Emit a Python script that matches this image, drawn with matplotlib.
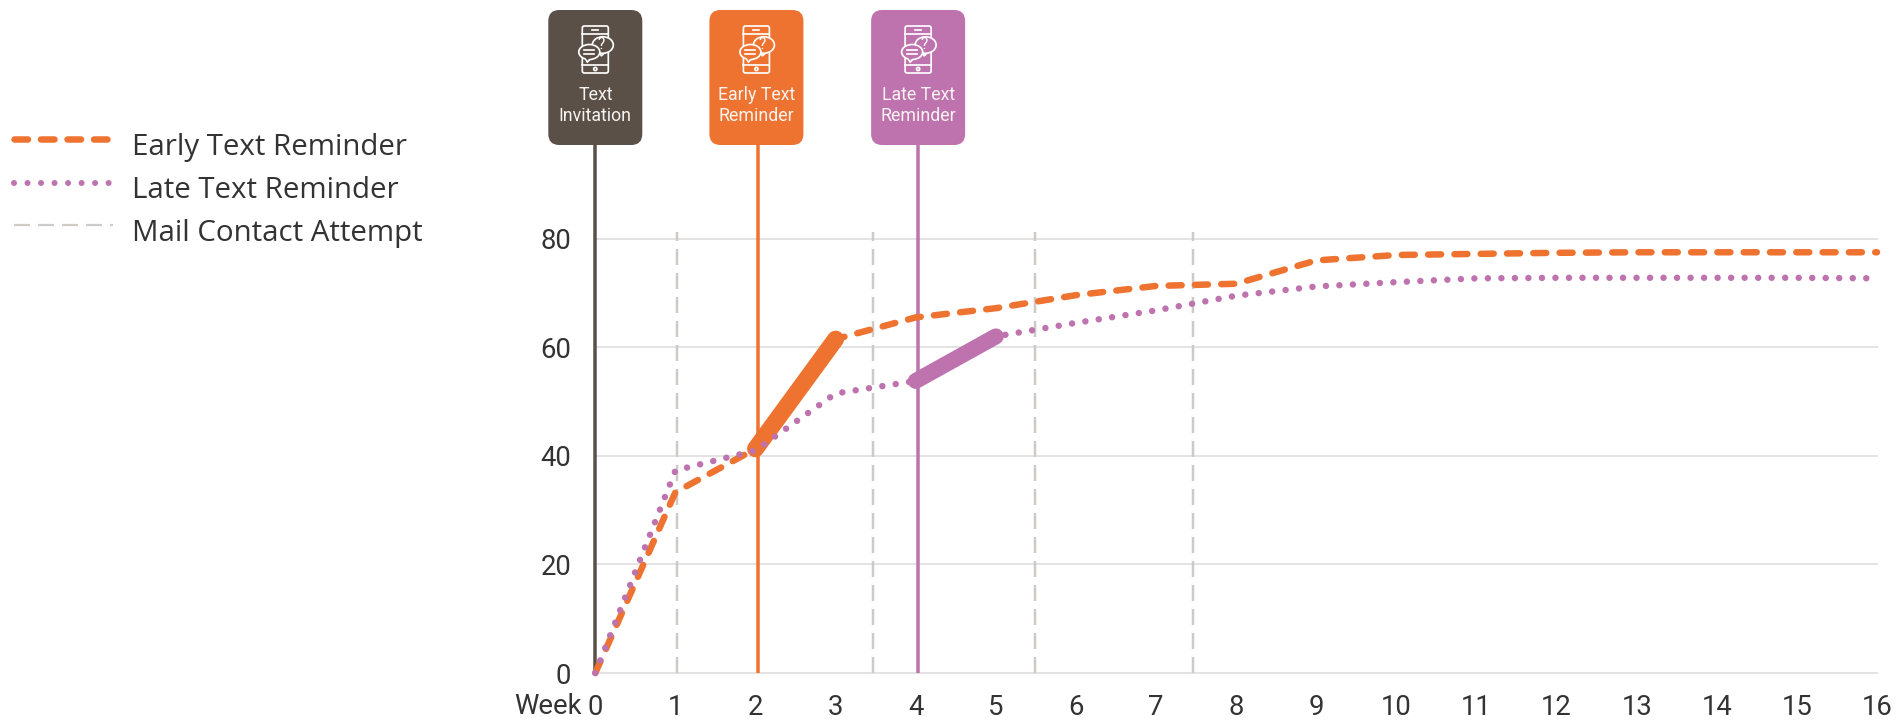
import numpy as np
import matplotlib
matplotlib.use("Agg")
import matplotlib.pyplot as plt
from matplotlib.patches import FancyBboxPatch, Ellipse, Circle, Polygon

W, H = 1901, 721
PX = 72.0 / 100  # points per pixel at dpi=100

ORANGE = "#EE7330"
PURPLE = "#BE72AE"
BROWN = "#5A5048"
MAIL = "#CFCAC5"
GRID = "#E3E3E3"
TEXT = "#333333"

weeks = list(range(17))
early = [0, 33.3, 41.3, 61.5, 65.5, 67.2, 69.6, 71.3, 71.7, 76, 77, 77.2, 77.4, 77.5, 77.5, 77.5, 77.5]
late = [0, 37.3, 41, 51.5, 53.8, 62, 64.5, 66.8, 69.5, 71.2, 72, 72.7, 72.8, 72.8, 72.8, 72.8, 72.7]

early_push = [2, 3]
late_push = [4, 5]
mail_weeks = [1.02, 3.47, 5.49, 7.46]

contact_weeks = [0, 2.03, 4.03]
contact_labels = ["Text\nInvitation", "Early Text\nReminder", "Late Text\nReminder"]
contact_colors = [BROWN, ORANGE, PURPLE]
box_shift = [0, -1.5, 0]

y_ticks = [0, 20, 40, 60, 80]
legend_labels = ["Early Text Reminder", "Late Text Reminder", "Mail Contact Attempt"]

DASH_EARLY = (0, (13 * PX, 13.3 * PX))
DOT_LATE = (0, (0.01, 13.5 * PX))
DASH_MAIL = (0, (16 * PX, 8 * PX))

plt.rcParams["lines.scale_dashes"] = False
plt.rcParams["font.family"] = ["Roboto", "DejaVu Sans"]

fig = plt.figure(figsize=(W / 100, H / 100), dpi=100)
ax = fig.add_axes([595.3 / W, 1 - 673 / H, (1877 - 595.3) / W, (673 - 238.7) / H], zorder=1)
ax.set_xlim(0, 16)
ax.set_ylim(0, 80)
ax.patch.set_visible(False)
for s in ax.spines.values():
    s.set_visible(False)

ax.set_xticks(weeks)
ax.set_yticks(y_ticks)
ax.tick_params(length=0, labelsize=27.5 * PX, labelcolor=TEXT)
ax.tick_params(axis="x", pad=21 * PX)
ax.tick_params(axis="y", pad=24 * PX)
ax.grid(axis="y", color=GRID, lw=2 * PX, zorder=0)
ax.set_axisbelow(True)
for g in ax.get_ygridlines():
    g.set_clip_on(False)
ax.annotate("Week", xy=(0, 0), xycoords="data", xytext=(-14 * PX, -33 * PX), textcoords="offset points",
            ha="right", va="center", fontsize=27.5 * PX, color=TEXT)

# mail attempts run a little past the top gridline
for wk in mail_weeks:
    ax.plot([wk, wk], [0, 81.3], color=MAIL, lw=2.5 * PX, ls=DASH_MAIL, clip_on=False, zorder=1)

# contact stems go up to the callout boxes
for wk, col in zip(contact_weeks, contact_colors):
    ax.plot([wk, wk], [0, 100], color=col, lw=3.5 * PX, clip_on=False, zorder=2,
            solid_capstyle="butt")

ax.plot(weeks, early, color=ORANGE, lw=6.5 * PX, ls=DASH_EARLY, dash_capstyle="round",
        dash_joinstyle="round", clip_on=False, zorder=3)
ax.plot(early_push, [early[w] for w in early_push], color=ORANGE, lw=17 * PX,
        solid_capstyle="round", zorder=4)
ax.plot(weeks, late, color=PURPLE, lw=6.5 * PX, ls=DOT_LATE, dash_capstyle="round",
        clip_on=False, zorder=5)
ax.plot(late_push, [late[w] for w in late_push], color=PURPLE, lw=16 * PX,
        solid_capstyle="round", zorder=6)

# overlay in pixel coordinates for legend and callouts
ov = fig.add_axes([0, 0, 1, 1], zorder=2)
ov.set_xlim(0, W)
ov.set_ylim(H, 0)
ov.axis("off")


def phone_icon(cx, col):
    lw = 1.7 * PX
    ov.add_patch(FancyBboxPatch((cx - 13, 26), 26, 47, boxstyle="round,pad=0,rounding_size=2",
                                fc="none", ec="white", lw=lw))
    ov.plot([cx - 13, cx + 13], [33.5, 33.5], color="white", lw=lw)
    ov.plot([cx - 13, cx + 13], [65, 65], color="white", lw=lw)
    ov.plot([cx - 3, cx + 3], [29.5, 29.5], color="white", lw=lw)
    ov.add_patch(Circle((cx, 69), 1.6, fc="none", ec="white", lw=lw))
    # question bubble sits behind the message bubble
    ov.add_patch(Polygon([[cx + 3, 50], [cx + 6, 56], [cx + 12, 50]], fc=col, ec="white", lw=lw))
    ov.add_patch(Ellipse((cx + 7.5, 45), 21, 16.5, fc=col, ec="white", lw=lw))
    ov.text(cx + 6, 44.5, "?", color="white", fontsize=15.5 * PX, ha="center", va="center")
    ov.add_patch(Polygon([[cx - 11, 57], [cx - 8, 62], [cx - 4, 58]], fc=col, ec="white", lw=lw))
    ov.add_patch(Ellipse((cx - 6, 52), 21, 15, fc=col, ec="white", lw=lw))
    ov.add_patch(Polygon([[cx - 10.5, 57], [cx - 8, 60.5], [cx - 4.5, 57.5]], fc=col, ec="none"))
    ov.plot([cx - 11, cx - 1], [49.5, 49.5], color="white", lw=lw)
    ov.plot([cx - 11, cx - 1], [54, 54], color="white", lw=lw)


for wk, shift, label, col in zip(contact_weeks, box_shift, contact_labels, contact_colors):
    cx = ax.transData.transform((wk, 0))[0] + shift
    ov.add_patch(FancyBboxPatch((cx - 47, 10), 94, 135, boxstyle="round,pad=0,rounding_size=11",
                                fc=col, ec="none"))
    phone_icon(cx, col)
    ov.text(cx, 105.5, label, color="#F6F3F1", fontsize=17.8 * PX, ha="center", va="center",
            linespacing=1.15, weight="normal")

# legend
legend_y = [139, 183, 225]
legend_styles = [
    dict(color=ORANGE, lw=6.5 * PX, ls=(0, (13.5 * PX, 13 * PX)), dash_capstyle="round"),
    dict(color=PURPLE, lw=6 * PX, ls=DOT_LATE, dash_capstyle="round"),
    dict(color=MAIL, lw=2.2 * PX, ls=DASH_MAIL),
]
for y, label, style in zip(legend_y, legend_labels, legend_styles):
    ov.plot([14, 113], [y, y], **style)
    ov.text(132, y + 8, label, color=TEXT, fontsize=29.5 * PX, ha="left", va="center",
            family=["Open Sans", "DejaVu Sans"])

fig.savefig("out.png", dpi=100)
